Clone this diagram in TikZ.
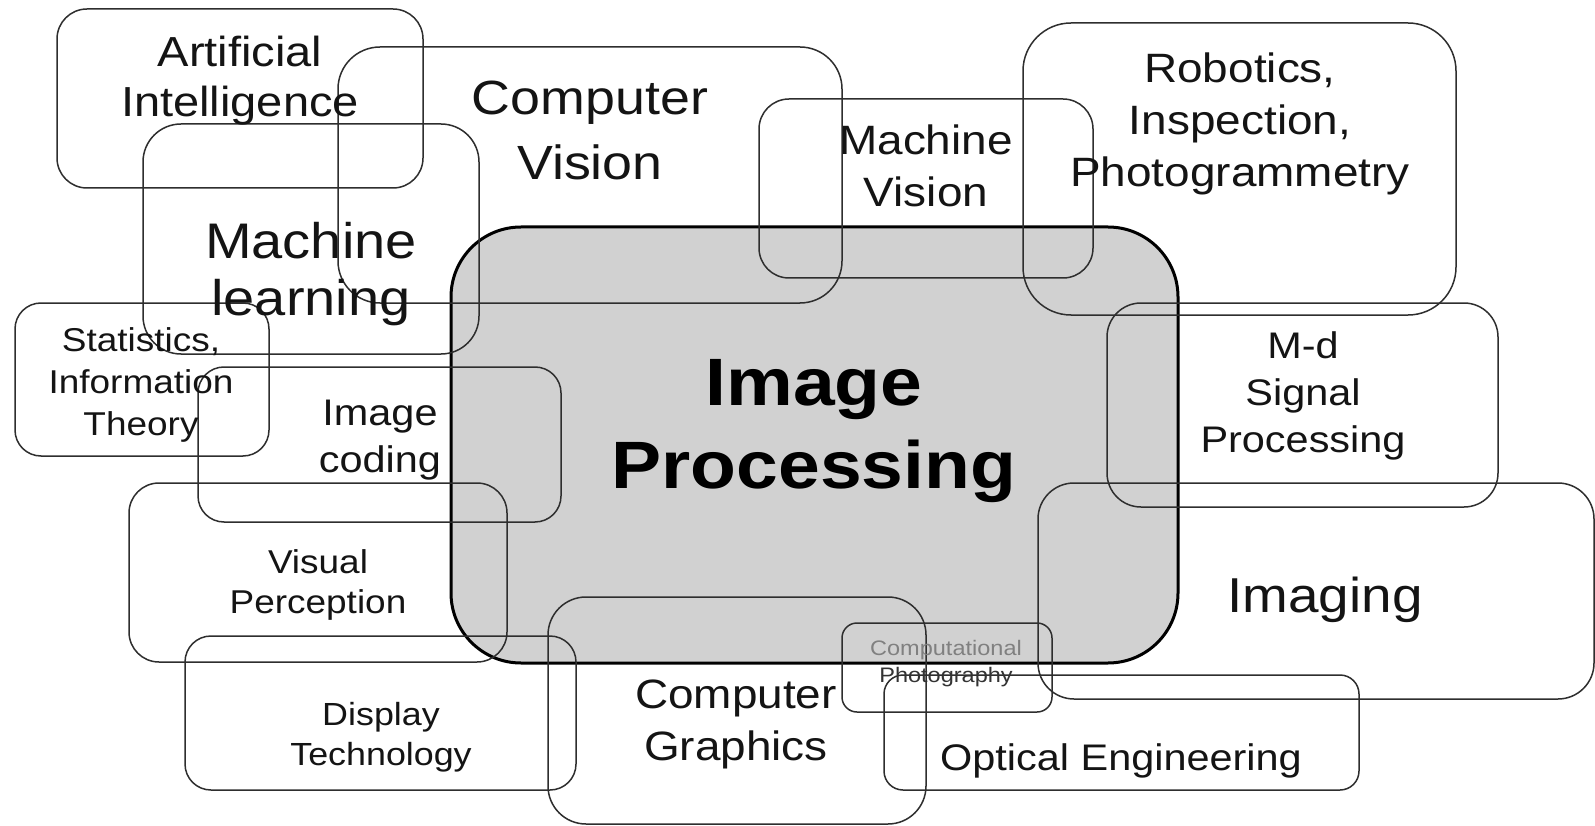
\documentclass[tikz,border=0pt]{standalone}
\usepackage{fontspec}
\setmainfont[FakeStretch=1.12]{Liberation Sans}
\newcommand\fsz[2]{\fontsize{#1}{#2}\selectfont}
\tikzset{
  region/.style={draw=black!82, line width=1.5pt, inner sep=0pt, outer sep=0pt, rectangle},
  core/.style={draw=black, fill=black!18, line width=3pt, inner sep=0pt, outer sep=0pt, rectangle},
  lbl/.style={anchor=base, align=center, inner sep=0pt, text=black!92},
}
% name, x1, y1, x2, y2, radius, extra style
\newcommand\areabox[7]{%
  \node[#7, rounded corners=#6pt, minimum width={(#4)-(#2)}, minimum height={(#5)-(#3)}]
    (#1) at ({((#2)+(#4))/2},{((#3)+(#5))/2}) {};}
\begin{document}
\begin{tikzpicture}[x=1pt,y=-1pt]
\path[fill=white] (0,0) rectangle (1595,826);
\useasboundingbox (0,0) rectangle (1595,826);
% central region
\areabox{ip}{451}{227}{1178}{663}{70}{core}
% surrounding regions
\areabox{ai}{57}{9}{423}{188}{30}{region}
\areabox{cv}{338}{47}{842}{303}{42}{region}
\areabox{ml}{143}{124}{479}{354}{38}{region}
\areabox{st}{15}{303}{269}{456}{26}{region}
\areabox{ic}{198}{367}{561}{522}{26}{region}
\areabox{vp}{129}{483}{507}{662}{30}{region}
\areabox{dt}{185}{636}{576}{790}{26}{region}
\areabox{cg}{548}{597}{926}{824}{38}{region}
\areabox{cp}{842}{623}{1052}{712}{15}{region}
\areabox{oe}{884}{675}{1359}{790}{19}{region}
\areabox{im}{1038}{483}{1594}{699}{36}{region}
\areabox{md}{1107}{303}{1498}{507}{34}{region}
\areabox{rb}{1023}{23}{1456}{315}{48}{region}
\areabox{mv}{759}{99}{1093}{278}{30}{region}
% labels (y = baseline of the last line)
\node[lbl, font=\fsz{67}{83}\bfseries, text=black] (ipt) at (814,488) {Image\\Processing};
\node[lbl, font=\fsz{42}{50}] (ait) at (240,117) {Artificial\\Intelligence};
\node[lbl, font=\fsz{48}{65}] (cvt) at (590,180) {Computer\\Vision};
\node[lbl, font=\fsz{50}{57}] (mlt) at (311,315) {Machine\\learning};
\node[lbl, font=\fsz{33}{42}] (stt) at (141,435) {Statistics,\\Information\\Theory};
\node[lbl, font=\fsz{37}{47}] (ict) at (380,472) {Image\\coding};
\node[lbl, font=\fsz{33}{40}] (vpt) at (318,613) {Visual\\Perception};
\node[lbl, font=\fsz{32}{40}] (dtt) at (381,765) {Display\\Technology};
\node[lbl, font=\fsz{41}{52}] (cgt) at (736,760) {Computer\\Graphics};
\node[lbl, font=\fsz{21}{27}] (cpt) at (946,682) {\textcolor{black!50}{Computational}\\\textcolor{black!80}{Photography}};
\node[lbl, font=\fsz{37}{45}] (oet) at (1121,770) {Optical Engineering};
\node[lbl, font=\fsz{49}{60}] (imt) at (1325,612) {Imaging};
\node[lbl, font=\fsz{37}{47}] (mdt) at (1303,452) {M-d\\Signal\\Processing};
\node[lbl, font=\fsz{41}{52}] (rbt) at (1240,187) {Robotics,\\Inspection,\\Photogrammetry};
\node[lbl, font=\fsz{41}{52}] (mvt) at (926,207) {Machine\\Vision};
\end{tikzpicture}
\end{document}
